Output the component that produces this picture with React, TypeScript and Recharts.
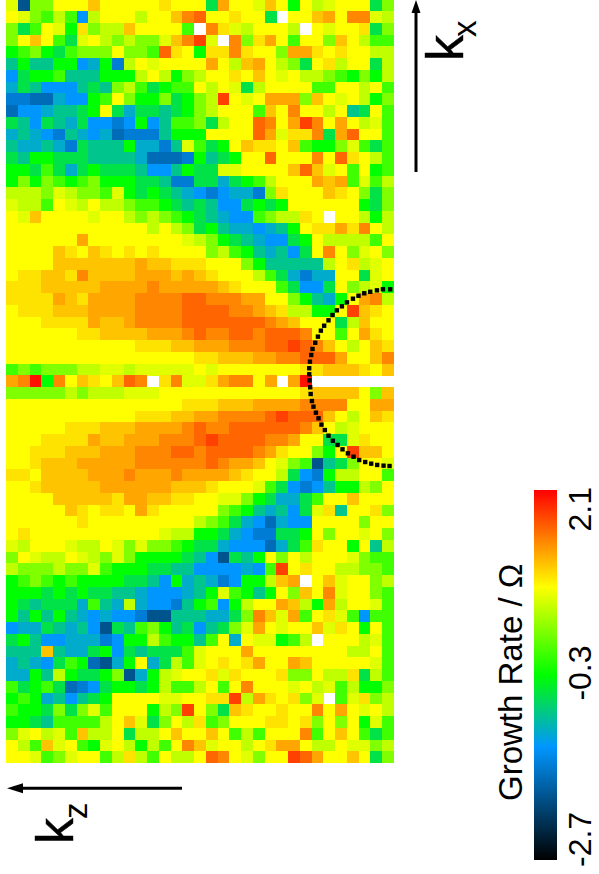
import { Bar, BarChart, Scatter, ScatterChart, XAxis, YAxis } from "recharts"

// one string per k_z row, one character per k_x cell (W = no value)
const gridRows = [
  "vDLL...b.....a...Gc..vb.g.yv...GL",
  ".vLlylCy...y..bde..a..GW..bc.ddvy",
  "LGl.vgaLyyb....lWdavy...yW.v..aGL",
  "L.b.lGv.yLyLLvbdfvWdLac.l..Lb.yll",
  "glLgGlLLL.LLlea.gaada..Lcca.a..yy",
  "EgEEggCTgBy.v....c.ybc.yLG.ay..Gy",
  "CGgglEEEgggy.ygLy..a.b.v.yyLlgLgy",
  "TGECCCEGELylGgll.y.vGy....ll..y.l",
  "BBHHTCCgl.LggLGgLyf.v.cccLb.v.ygL",
  "HCCTEEGg.GTGGEGgLy...lb.d..y.EG.l",
  "GECGETGCCBCgCEllLGy..ed.cfd.c.yvl",
  "TETCBETCTHBBBEggg....ecvaadGce..l",
  "ETTETBGEEEgTTBEvlGg.baa.blggLvlGl",
  "GEggGGGEEEETHHHBgEGg..e...d.ea.yl",
  "ggGlGTGgGGGECCEgGGvv....bebv.l.gl",
  "gLgLlglLgggGGEBBGGTGgly...cbclvly",
  "yyyLvyLLlvgGgGETCBCTTBLa...ba.LGL",
  "vyyl.vy.yyLllgGEGECCGgGg......gGL",
  ".vb....v..yLyLlgGETCClLyya.W..ygy",
  "............y.yLGgETTCTEg.aacad.y",
  "......c........vyLgGETCCGg.yyyyl.",
  "....ba.ba.a.a....LylgETECG.d.Lv.L",
  "....bbbbbbbcbbaaa...LgEEEEEy.ayv.",
  ".aabbadbbbbcccbcba...ylGTBTT..Gv.",
  "aaabbbbbccccdcccccba...lGCCG.Lyvg",
  "aaaacbaccccddddeedddcc..LgETg.cdy",
  ".aaabbbccccddddeeeeddcbayygg.fba.",
  "...aaaacbbcddddeeeeeeedcb...Gyb..",
  "......aabbbbcccdeddeedeeed..l.ca.",
  "...........aaabbcccdddeefedb.y.ba",
  "................aabbbccddeeec..bd",
  "lLlLLLyyvvyvvvvv.v.......aabbba.b",
  "cdrgd.ba.bedWadvvacdd.cWcrWWWWWWW",
  "LLLLLyLyyyvvv............abbbb.Lb",
  "...............aaabbbccccdddd..cc",
  "...........aaabbccddddefeeeb.y.ba",
  ".....aaabbbccccdeddeeeeeedb.yv...",
  "...aaaacbbcccdddefeeeeddc..GGva..",
  "..aaabbbcccdddeedeeeedca..Lg.fbb.",
  "..abbbcccccddddddedccb.vLlDEGL..v",
  "aa.bbbbcccdcccdccccba..yGCBgyy..l",
  "..abbbbbccccccbbba...vlGCBCEggyL.",
  "....bbbbbaccbbaa..vvLgGTTGl..b...",
  ".....ba.aa.ca.....LlgETECGvaE..aL",
  "......a.........yLlGTCHTCC....L..",
  ".a...........vyyggGTCBBGGg.L..v.L",
  "vy...vyy.vLvLLlgGGTCCCHTGla..g.Ey",
  "L.vyy.vyLvLggggGECDGEg.L.y...vLll",
  "yLLLyLLvlgggGGEECCCCTClf.a..yyLLl",
  "glLlglggggGGECgTETBCggybcW.bv..Ly",
  "gggGgGgGGEETCCCTEgvlgEg.Lb.dv..Ll",
  "gGEGGGTlETyTCCBEglCgy..cbygcy..vl",
  "gEgEgETCTCCBDDEEETTGLdbvcl.avlCll",
  "CTTGETECDGElLgEGCEGLvc.v..bva.g.l",
  "GgECCTTTBCggylggEl.T.vvglyW...yvl",
  "EEEbETTGgCGEGGGlv...c........yy.l",
  "TETCGlgHDTg.TGylv.a.ac..cb.....vl",
  "TTgEygGGgLDTgyv..ava...aLL.yyaGyl",
  "lGglGHBCGggGgylly.l.d...v.yvlyggL",
  "glgTECEGg....vv..aafyca.aLvWlvaLy",
  "lggGLGLvl...gyLf.LGba..a..d.c.v.y",
  "ggGElllly.bvGL.yalL...aa.aL.L.gvl",
  "Lv.yvlbyy.Gyy.b..b.lyl...dl.b.lGl",
  ".ylbv.lgv.ygyl.dbv..y.acc.yy.vvLy",
  "..vlLv..lyayl.yy.ed.vL..fec..b.GL",
]

// growth rate for each character used in gridRows
const levelCodes = "DHBCTEGglLyv.abcdefr"
const levelRates = [-1.88, -1.65, -1.48, -1.23, -1.04, -0.81, -0.56, -0.3, -0.015, 0.27, 0.555, 0.7, 0.84, 0.98, 1.13, 1.28, 1.44, 1.6, 1.785, 2.02]

// colour scale of the bar on the right
const scaleRates = [-2.7, -1.23, -0.3, 0.84, 2.1]
const scaleColors = [
  [0, 0, 0],
  [0, 150, 255],
  [0, 255, 0],
  [255, 255, 0],
  [255, 0, 0],
]
const rateTicks = [-2.7, -0.3, 2.1]

// dotted arc, in grid units
const arcKx = [
  32.68, 32.06, 31.55, 30.98, 30.47, 29.98, 29.51, 29.0, 28.57, 28.14, 27.77, 27.43, 27.06, 26.78, 26.53, 26.3, 26.07,
  25.96, 25.85, 25.79, 25.79, 25.81, 25.87, 25.91, 26.02, 26.15, 26.36, 26.58, 26.83, 27.12, 27.43, 27.8, 28.2, 28.62,
  29.08, 29.56, 30.04, 30.55, 31.06, 31.57, 32.11, 32.62,
]
const arcKz = [
  24.68, 24.68, 24.77, 24.89, 25.02, 25.23, 25.48, 25.79, 26.13, 26.47, 26.87, 27.32, 27.78, 28.2, 28.71, 29.23, 29.76,
  30.27, 30.84, 31.4, 31.91, 32.43, 33.02, 33.59, 34.19, 34.67, 35.18, 35.66, 36.2, 36.66, 37.14, 37.57, 37.93, 38.3,
  38.64, 38.93, 39.21, 39.38, 39.52, 39.63, 39.69, 39.72,
]

const CELL = 11.75
const FONT = "'Liberation Sans', Arial, sans-serif"

function rateColor(rate: number) {
  let i = 0
  while (i < scaleRates.length - 2 && rate > scaleRates[i + 1]) i++
  const t = (rate - scaleRates[i]) / (scaleRates[i + 1] - scaleRates[i])
  const rgb = scaleColors[i].map((c, k) => Math.round(c + (scaleColors[i + 1][k] - c) * t))
  return `rgb(${rgb.join(",")})`
}

const cells = gridRows.flatMap((row, z) =>
  row.split("").flatMap((code, x) => {
    const level = levelCodes.indexOf(code)
    return level < 0 ? [] : [{ x: x + 0.5, z: z + 0.5, rate: levelRates[level] }]
  }),
)

const arc = arcKx.map((x, i) => ({ x, z: arcKz[i] }))

const CellShape = (props: any) => (
  <rect
    x={props.cx - CELL / 2}
    y={props.cy - CELL / 2}
    width={CELL + 0.3}
    height={CELL + 0.3}
    fill={rateColor(props.payload.rate)}
    shapeRendering="crispEdges"
  />
)

const ArcDot = (props: any) => <rect x={props.cx - 2.2} y={props.cy - 2.2} width={4.4} height={4.4} fill="#000" />

const RateTick = (props: any) => {
  const value = props.payload.value
  const anchor = value === 2.1 ? "end" : value === -2.7 ? "start" : "middle"
  const shift = value === 2.1 ? -3 : value === -2.7 ? 7 : -2
  const x = 591
  const y = props.y + shift
  return (
    <text
      x={x - 534}
      y={y}
      transform={`rotate(-90 ${x - 534} ${y})`}
      textAnchor={anchor}
      fontFamily={FONT}
      fontSize={32}
      fill="#000"
    >
      {value}
    </text>
  )
}

const RotatedLabel = ({ x, y, size, weight, children }: any) => (
  <text
    x={x}
    y={y}
    transform={`rotate(-90 ${x} ${y})`}
    fontFamily={FONT}
    fontSize={size}
    fill="#000"
    stroke="#000"
    strokeWidth={weight || 0}
  >
    {children}
  </text>
)

export default function App() {
  return (
    <div style={{ position: "absolute", left: 0, top: 0, width: 599, height: 874, background: "#fff", overflow: "hidden" }}>
      <ScatterChart width={599} height={874} margin={{ top: -0.7, left: 6, right: 205, bottom: 110.95 }}>
        <XAxis type="number" dataKey="x" domain={[0, 33]} hide />
        <YAxis type="number" dataKey="z" domain={[0, 65]} reversed hide />
        <Scatter data={cells} shape={CellShape} isAnimationActive={false} />
        <Scatter data={arc} shape={ArcDot} isAnimationActive={false} />

        <line x1={416} y1={172} x2={416} y2={10} stroke="#000" strokeWidth={3} />
        <polygon points="416,0 411.5,13 420.5,13" fill="#000" />
        <line x1={182} y1={788.3} x2={20} y2={788.3} stroke="#000" strokeWidth={3} />
        <polygon points="7,788.3 23,783.3 23,793.3" fill="#000" />

        <RotatedLabel x={463} y={61} size={52} weight={0.4}>k</RotatedLabel>
        <RotatedLabel x={476} y={37} size={33}>x</RotatedLabel>
        <RotatedLabel x={73} y={844} size={52} weight={0.4}>k</RotatedLabel>
        <RotatedLabel x={87} y={819} size={33}>z</RotatedLabel>
        <RotatedLabel x={522} y={801} size={33}>Growth Rate / Ω</RotatedLabel>
      </ScatterChart>

      <div style={{ position: "absolute", left: 534, top: 480, width: 65, height: 394 }}>
        <BarChart
          width={65}
          height={394}
          data={[{ name: "rate", range: [-2.7, 2.1] }]}
          margin={{ top: 10, left: 0, right: 0, bottom: 14 }}
          barCategoryGap={0}
        >
          <defs>
            <linearGradient id="rateScale" x1="0" y1="0" x2="0" y2="1">
              {[...scaleRates].reverse().map((rate) => (
                <stop key={rate} offset={(2.1 - rate) / 4.8} stopColor={rateColor(rate)} />
              ))}
            </linearGradient>
          </defs>
          <XAxis dataKey="name" hide />
          <YAxis
            orientation="right"
            type="number"
            domain={[-2.7, 2.1]}
            ticks={rateTicks}
            interval={0}
            width={42}
            axisLine={false}
            tickLine={false}
            tick={RateTick}
          />
          <Bar dataKey="range" fill="url(#rateScale)" isAnimationActive={false} />
        </BarChart>
      </div>
    </div>
  )
}
